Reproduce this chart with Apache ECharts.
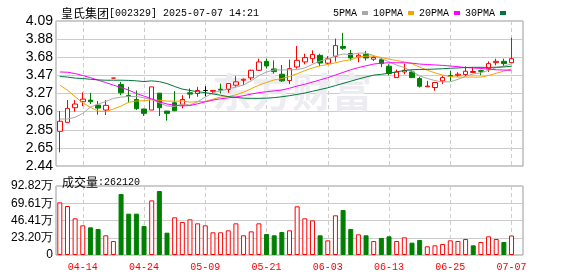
<!DOCTYPE html>
<html><head><meta charset="utf-8">
<script src="https://cdn.jsdelivr.net/npm/echarts@6/dist/echarts.min.js"></script>
<style>html,body{margin:0;padding:0;background:#fff}#c{width:578px;height:276px}</style>
</head><body><div id="c"></div>
<script>
const stockName = '皇氏集团';
const stockInfo = '[002329] 2025-07-07 14:21';
const volTitle = '成交量';
const lastVolume = '262120';
const dates = ['04-09','04-10','04-11','04-14','04-15','04-16','04-17','04-18','04-21','04-22','04-23','04-24','04-25','04-28','04-29','04-30',
'05-06','05-07','05-08','05-09','05-12','05-13','05-14','05-15','05-16','05-19','05-20','05-21','05-22','05-23','05-26','05-27','05-28','05-29','05-30',
'06-03','06-04','06-05','06-06','06-09','06-10','06-11','06-12','06-13','06-16','06-17','06-18','06-19','06-20','06-23','06-24','06-25','06-26','06-27','06-30',
'07-01','07-02','07-03','07-04','07-07'];
const opens = [2.835,2.937,3.103,3.171,3.19,3.133,3.077,3.44,3.367,3.243,3.197,3.088,3.077,3.269,3.065,3.16,3.133,3.273,3.265,3.299,
3.29,3.314,3.31,3.36,3.416,3.443,3.529,3.631,3.544,3.484,3.412,3.567,3.624,3.661,3.699,3.61,3.688,3.80,3.72,3.68,
3.71,3.655,3.65,3.575,3.446,3.51,3.51,3.435,3.341,3.333,3.409,3.469,3.473,3.48,3.505,3.525,3.548,3.616,3.631,3.616];
const closes = [2.949,3.096,3.145,3.201,3.171,3.099,3.13,3.44,3.273,3.231,3.092,3.039,3.34,3.103,3.039,3.069,3.197,3.258,3.299,3.299,
3.30,3.305,3.378,3.397,3.427,3.529,3.624,3.578,3.514,3.409,3.548,3.642,3.673,3.71,3.612,3.66,3.81,3.78,3.67,3.70,
3.67,3.675,3.605,3.492,3.51,3.529,3.446,3.348,3.35,3.39,3.446,3.461,3.484,3.518,3.515,3.517,3.605,3.631,3.605,3.661];
const lows = [2.595,2.937,3.058,3.122,3.145,3.024,3.02,3.44,3.246,3.16,3.077,3.009,3.077,3.009,2.956,3.069,3.096,3.209,3.228,3.231,
3.265,3.265,3.273,3.341,3.36,3.416,3.522,3.548,3.492,3.397,3.371,3.548,3.597,3.612,3.575,3.60,3.628,3.76,3.64,3.62,
3.64,3.635,3.567,3.473,3.446,3.484,3.443,3.333,3.341,3.296,3.371,3.405,3.454,3.465,3.50,3.473,3.51,3.586,3.578,3.616];
const highs = [3.065,3.19,3.19,3.277,3.273,3.179,3.19,3.44,3.397,3.341,3.299,3.092,3.34,3.27,3.065,3.292,3.246,3.322,3.341,3.348,
3.305,3.378,3.378,3.461,3.435,3.537,3.661,3.661,3.642,3.59,3.65,3.805,3.718,3.756,3.718,3.69,3.89,3.955,3.76,3.72,
3.75,3.69,3.673,3.597,3.537,3.605,3.529,3.454,3.409,3.39,3.465,3.522,3.507,3.575,3.567,3.537,3.631,3.661,3.661,3.90];
const ma5 = [2.975,2.975,2.994,3.039,3.111,3.144,3.175,3.209,3.224,3.231,3.231,3.216,3.194,3.16,3.122,3.118,3.148,3.133,3.171,3.224,
3.273,3.296,3.318,3.337,3.363,3.409,3.469,3.51,3.533,3.533,3.533,3.537,3.556,3.597,3.635,3.658,3.692,3.714,3.707,3.725,
3.725,3.697,3.662,3.626,3.588,3.56,3.516,3.465,3.436,3.412,3.396,3.399,3.426,3.46,3.488,3.50,3.529,3.559,3.576,3.602];
const ma10 = [3.36,3.303,3.228,3.16,3.107,3.065,3.058,3.088,3.122,3.165,3.18,3.182,3.195,3.188,3.179,3.177,3.181,3.167,3.172,3.174,
3.20,3.225,3.23,3.25,3.28,3.32,3.36,3.39,3.42,3.435,3.46,3.49,3.525,3.555,3.58,3.595,3.615,3.635,3.65,3.68,
3.69,3.69,3.675,3.655,3.64,3.625,3.605,3.565,3.53,3.50,3.475,3.457,3.452,3.452,3.452,3.452,3.47,3.495,3.52,3.545];
const ma20 = [3.51,3.507,3.492,3.469,3.446,3.416,3.39,3.36,3.333,3.303,3.265,3.235,3.205,3.17,3.145,3.132,3.124,3.128,3.148,3.17,
3.19,3.205,3.215,3.225,3.24,3.258,3.275,3.285,3.295,3.305,3.325,3.35,3.37,3.395,3.42,3.445,3.475,3.505,3.535,3.56,
3.58,3.60,3.61,3.615,3.615,3.615,3.61,3.60,3.595,3.59,3.585,3.578,3.57,3.56,3.556,3.55,3.542,3.535,3.532,3.53];
const ma30 = [3.458,3.452,3.44,3.435,3.427,3.42,3.416,3.416,3.416,3.414,3.409,3.401,3.409,3.40,3.378,3.345,3.315,3.30,3.285,3.275,
3.26,3.245,3.23,3.22,3.212,3.21,3.21,3.212,3.218,3.228,3.24,3.255,3.27,3.29,3.31,3.33,3.355,3.38,3.405,3.43,
3.453,3.474,3.483,3.496,3.511,3.527,3.535,3.538,3.54,3.543,3.547,3.552,3.556,3.56,3.563,3.563,3.562,3.564,3.567,3.575];
const volumes = [708500,659000,493000,399000,372000,350000,265000,188000,821000,556000,
556000,390000,735000,861000,300000,507000,444000,480000,426000,399000,
305000,305000,332000,426000,265000,318000,426000,282000,265000,309000,
332000,655000,493000,466000,265000,197000,534000,605000,350000,278000,
265000,188000,229000,251000,188000,238000,166000,202000,117000,130000,
148000,197000,188000,215000,130000,175000,251000,215000,175000,262120];
const priceTicks = ['2.44','2.65','2.85','3.06','3.27','3.47','3.68','3.88','4.09'];
const volTicks = ['0','23.20万','46.41万','69.61万','92.82万'];
const labelDates = ['04-14','04-24','05-09','05-21','06-03','06-13','06-25','07-07'];
const maNames = ['5PMA','10PMA','20PMA','30PMA'];

const RED = '#ff0000', GREEN = '#008000';
const MONO = 'Liberation Mono';
const CJK = 'Noto Sans CJK SC';
const cats = dates.concat(['']);
const showLabel = (idx, val) => labelDates.indexOf(val) >= 0;

const candleData = dates.map((d, i) => {
  const o = opens[i], c = closes[i];
  const item = { value: [o, c, lows[i], highs[i]] };
  if (o === c) {
    const prev = i > 0 ? closes[i - 1] : o;
    const col = c > prev ? RED : (c < prev ? GREEN : '#000000');
    item.itemStyle = { color: col, color0: col, borderColor: col, borderColor0: col };
  }
  return item;
});
const volData = volumes.map((v, i) => {
  const ref = i > 0 ? closes[i - 1] : opens[i];
  const up = closes[i] >= ref;
  return { value: v, itemStyle: up ? { color: '#ffffff', borderColor: RED, borderWidth: 1 }
                                   : { color: GREEN, borderColor: GREEN, borderWidth: 1 } };
});
const maSets = [ma5, ma10, ma20, ma30];
const maColors = ['#a8a8a8', '#f5a300', '#ff00ff', '#00773a'];
const richTitle = {
  a: { fontFamily: CJK, fontSize: 12, color: '#000', fontWeight: 'normal' },
  b: { fontFamily: MONO, fontSize: 10, color: '#000', fontWeight: 'normal' }
};

const chart = echarts.init(document.getElementById('c'));
chart.setOption({
  animation: false,
  backgroundColor: '#ffffff',
  title: [
    { text: '{a|' + stockName + '}{b|' + stockInfo + '}', left: 56, top: 2,
      textStyle: { fontWeight: 'normal', rich: richTitle } },
    { text: '{a|' + volTitle + '}{b|:' + lastVolume + '}', left: 57, top: 171,
      textStyle: { fontWeight: 'normal', rich: richTitle } }
  ],
  legend: {
    data: maNames, right: 67, top: 2, align: 'right', icon: 'rect', itemWidth: 6, itemHeight: 4, itemGap: 5,
    textStyle: { fontFamily: MONO, fontSize: 10, color: '#000', lineHeight: 12 }
  },
  graphic: [{
    type: 'text', left: 212, top: 72, z: 1, silent: true,
    style: { text: '东方财富', fill: '#ededf1', font: 'bold 40px "Noto Sans CJK SC"' }
  }],
  grid: [
    { left: 56, top: 21, width: 467, height: 145, show: true, borderColor: '#999', borderWidth: 1, backgroundColor: 'transparent' },
    { left: 56, top: 186, width: 467, height: 69, show: true, borderColor: '#999', borderWidth: 1, backgroundColor: 'transparent' }
  ],
  xAxis: [
    { type: 'category', gridIndex: 0, data: cats, boundaryGap: true,
      axisLine: { show: false }, axisTick: { show: false }, axisLabel: { show: false },
      splitLine: { show: true, interval: showLabel, alignWithLabel: true, lineStyle: { color: '#cccccc', type: [4, 3] } } },
    { type: 'category', gridIndex: 1, data: cats, boundaryGap: true,
      axisLine: { show: false }, axisTick: { show: false },
      axisLabel: { interval: showLabel, margin: 7, color: RED, fontFamily: MONO, fontSize: 10 },
      splitLine: { show: true, interval: showLabel, alignWithLabel: true, lineStyle: { color: '#cccccc', type: [4, 3] } } }
  ],
  yAxis: [
    { type: 'value', gridIndex: 0, min: 2.44, max: 4.09, show: false },
    { type: 'category', gridIndex: 0, data: priceTicks, boundaryGap: false, position: 'left',
      axisLine: { show: false }, axisTick: { show: false },
      axisLabel: { interval: 0, margin: 3, fontSize: 14, color: '#000', fontFamily: 'Liberation Sans' },
      splitLine: { show: true, interval: 0, lineStyle: { color: '#cccccc' } } },
    { type: 'value', gridIndex: 1, min: 0, max: 928200, interval: 232050,
      axisLine: { show: false }, axisTick: { show: false },
      axisLabel: { margin: 3, fontSize: 12, color: '#000', fontFamily: 'Liberation Sans', formatter: (v, i) => volTicks[i] },
      splitLine: { lineStyle: { color: '#cccccc' } } }
  ],
  series: [
    { type: 'candlestick', name: 'K', xAxisIndex: 0, yAxisIndex: 0, data: candleData, barWidth: 5,
      itemStyle: { color: '#ffffff', color0: GREEN, borderColor: RED, borderColor0: GREEN, borderWidth: 1 } }
  ].concat(maSets.map((arr, k) => ({
    type: 'line', name: maNames[k], xAxisIndex: 0, yAxisIndex: 0, data: arr, symbol: 'none',
    lineStyle: { width: 1, color: maColors[k] }, itemStyle: { color: maColors[k] }
  }))).concat([
    { type: 'bar', name: 'VOL', xAxisIndex: 1, yAxisIndex: 2, data: volData, barWidth: 5 }
  ])
});
</script></body></html>
